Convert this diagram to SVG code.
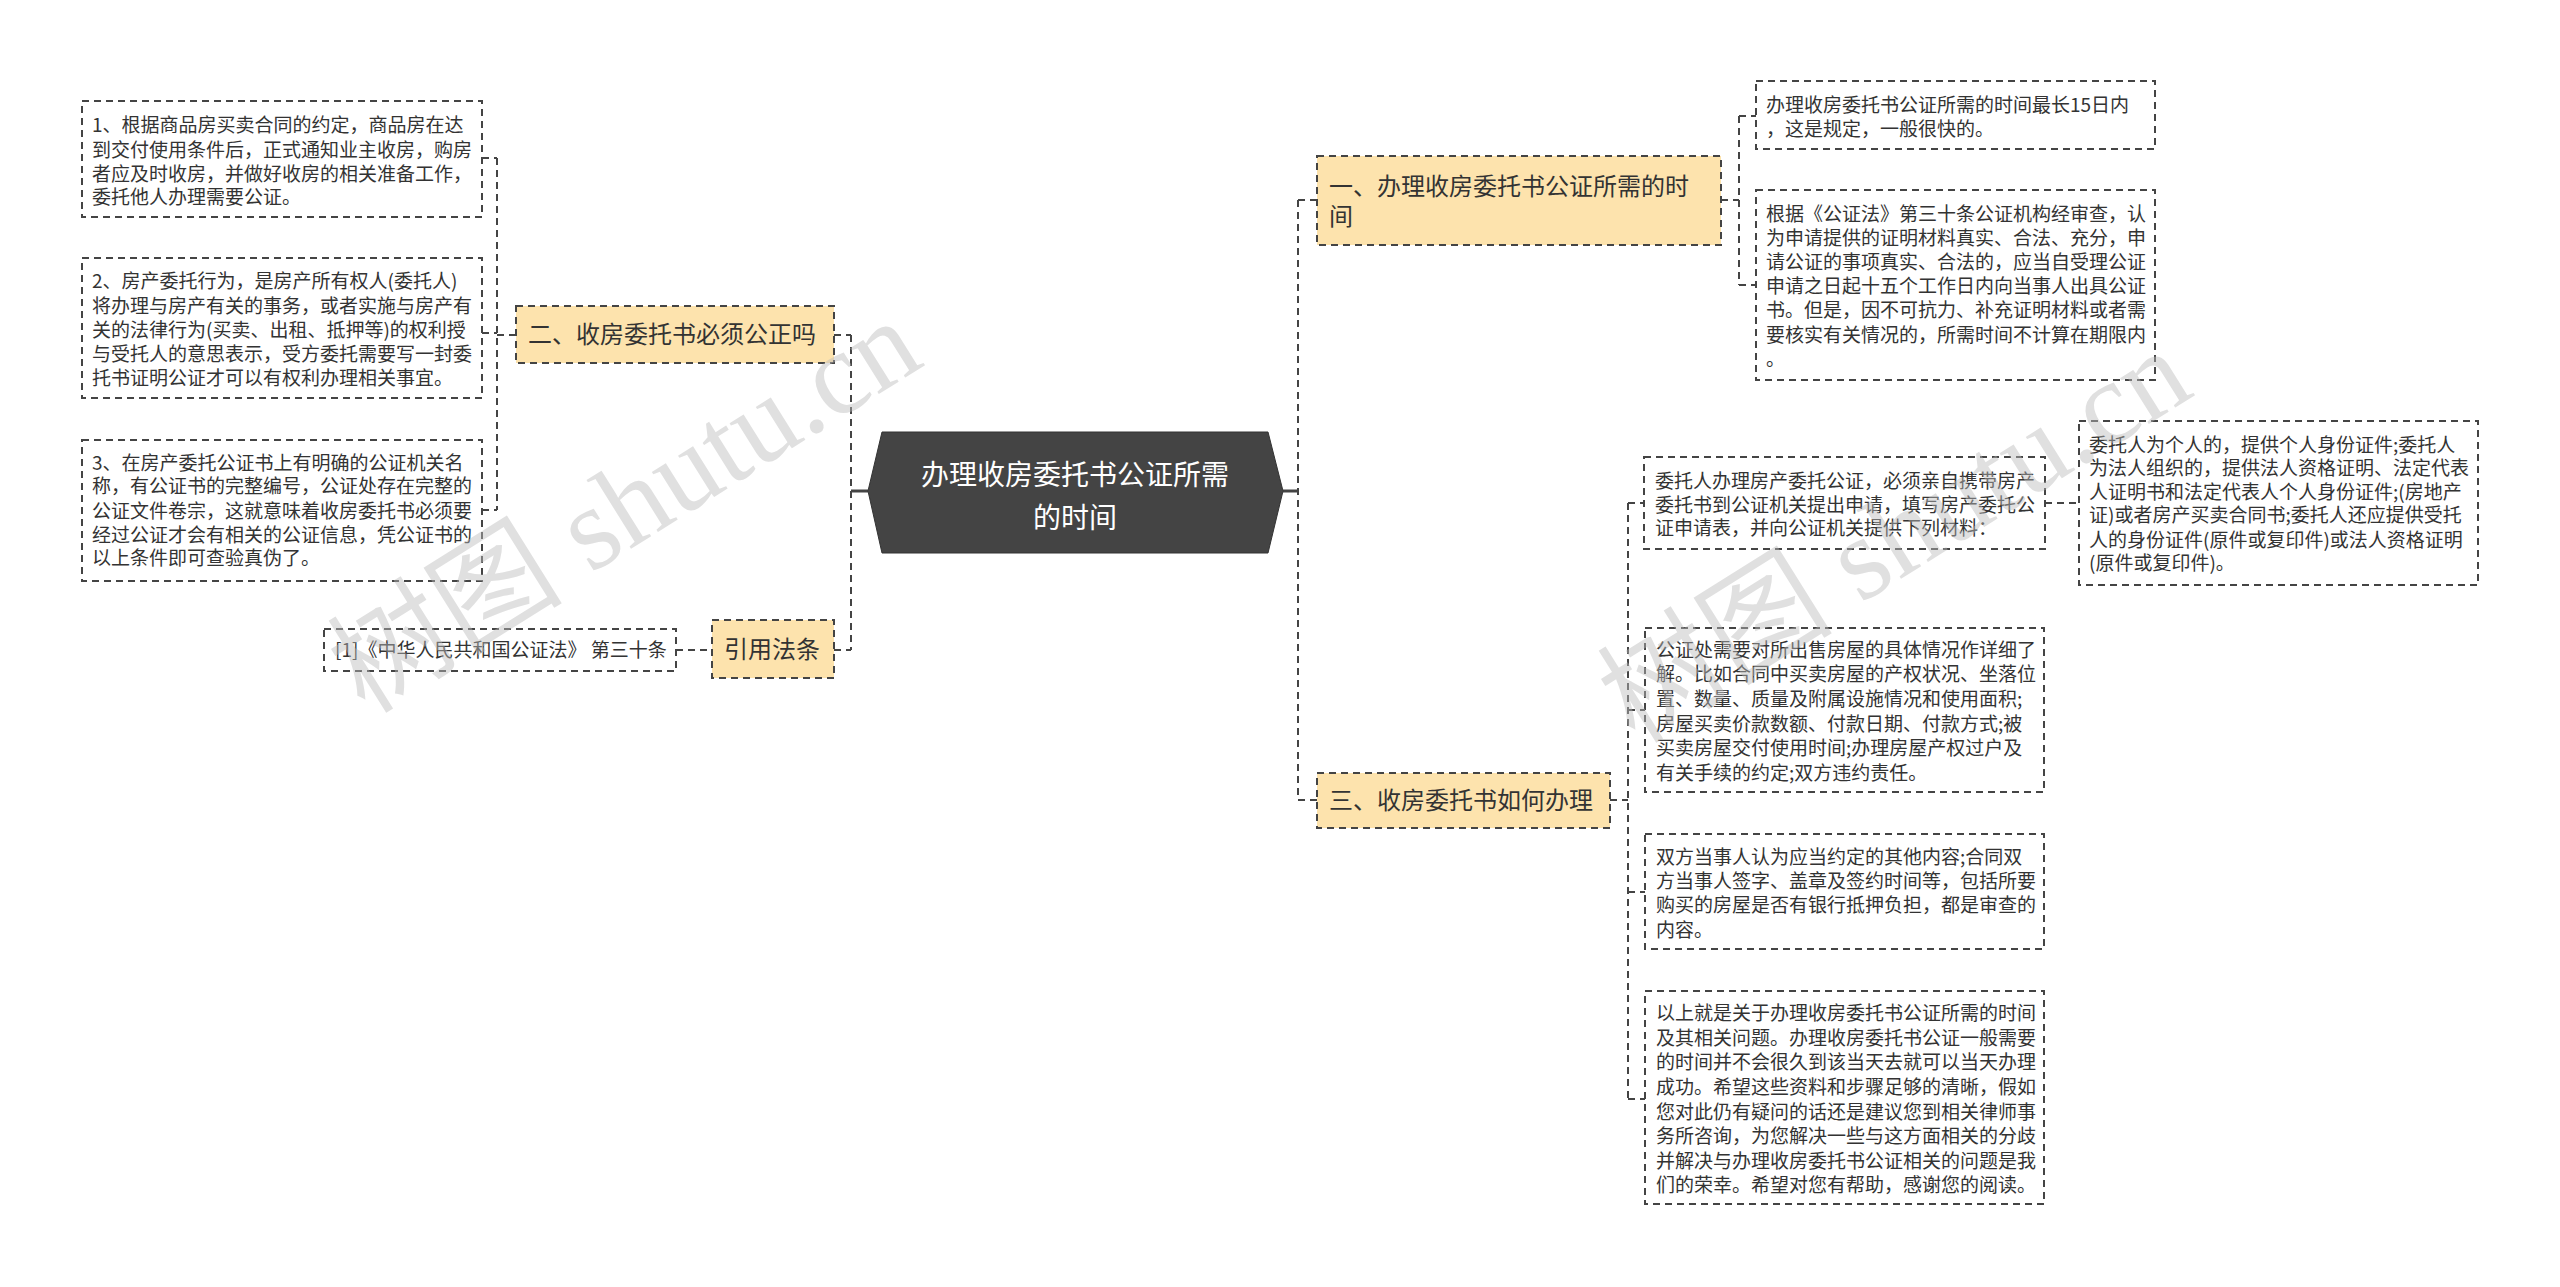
<svg xmlns="http://www.w3.org/2000/svg" width="2560" height="1287" viewBox="0 0 2560 1287">
<style>
text{font-family:"Noto Sans CJK SC","Liberation Sans",sans-serif;fill:#333}
.s{font-size:19px}
.m{font-size:24px}
.leaf{fill:#fff;stroke:#444;stroke-width:2;stroke-dasharray:7,5}
.l1{fill:#fde3ad;stroke:#444;stroke-width:2;stroke-dasharray:7,5}
.c{fill:none;stroke:#444;stroke-width:2;stroke-dasharray:7,5}
.wm{font-family:"Liberation Serif","Noto Sans CJK SC",serif;font-size:118px;fill:#bbb;opacity:0.45}
</style>
<rect width="2560" height="1287" fill="#fff"/>
<g id="connectors">
<path d="M851,491H868 M1283,491H1298" stroke="#444" stroke-width="3"/>
<path class="c" d="M851,335V650 M834,335H851 M834,650H851 M676,650H712"/>
<path class="c" d="M497,158V510 M482,158H497 M482,333H497 M482,510H497 M497,335H516"/>
<path class="c" d="M1298,200V800 M1298,200H1317 M1298,800H1317"/>
<path class="c" d="M1721,200H1739 M1739,116V285 M1739,116H1756 M1739,285H1756"/>
<path class="c" d="M1610,800H1628 M1628,503V1099 M1628,503H1644 M1628,710H1645 M1628,892H1645 M1628,1099H1645 M2045,503H2079"/>
</g>
<g id="center">
<polygon points="868,491 882,432 1268,432 1283,491 1268,553 882,553" fill="#444" stroke="#333"/>
<text x="1075" y="485" text-anchor="middle" style="font-size:28px;fill:#fff">办理收房委托书公证所需</text>
<text x="1075" y="528" text-anchor="middle" style="font-size:28px;fill:#fff">的时间</text>
</g>
<g id="n2">
<rect class="l1" x="516" y="306" width="318" height="57"/>
<text class="m" x="528" y="343">二、收房委托书必须公正吗</text>
</g>
<g id="n2a">
<rect class="leaf" x="82" y="101" width="400" height="116"/>
<text class="s"><tspan x="92" y="132">1、根据商品房买卖合同的约定，商品房在达</tspan><tspan x="92" y="157">到交付使用条件后，正式通知业主收房，购房</tspan><tspan x="92" y="181">者应及时收房，并做好收房的相关准备工作，</tspan><tspan x="92" y="204">委托他人办理需要公证。</tspan></text>
</g>
<g id="n2b">
<rect class="leaf" x="82" y="258" width="400" height="140"/>
<text class="s"><tspan x="92" y="288">2、房产委托行为，是房产所有权人(委托人)</tspan><tspan x="92" y="313">将办理与房产有关的事务，或者实施与房产有</tspan><tspan x="92" y="337">关的法律行为(买卖、出租、抵押等)的权利授</tspan><tspan x="92" y="361">与受托人的意思表示，受方委托需要写一封委</tspan><tspan x="92" y="385">托书证明公证才可以有权利办理相关事宜。</tspan></text>
</g>
<g id="n2c">
<rect class="leaf" x="82" y="440" width="400" height="141"/>
<text class="s"><tspan x="92" y="470">3、在房产委托公证书上有明确的公证机关名</tspan><tspan x="92" y="493">称，有公证书的完整编号，公证处存在完整的</tspan><tspan x="92" y="518">公证文件卷宗，这就意味着收房委托书必须要</tspan><tspan x="92" y="542">经过公证才会有相关的公证信息，凭公证书的</tspan><tspan x="92" y="565">以上条件即可查验真伪了。</tspan></text>
</g>
<g id="n4">
<rect class="l1" x="712" y="620" width="122" height="58"/>
<text class="m" x="724" y="658">引用法条</text>
</g>
<g id="n4a">
<rect class="leaf" x="324" y="629" width="352" height="42"/>
<text class="s" x="335" y="657">[1]《中华人民共和国公证法》 第三十条</text>
</g>
<g id="n1">
<rect class="l1" x="1317" y="156" width="404" height="89"/>
<text class="m"><tspan x="1329" y="195">一、办理收房委托书公证所需的时</tspan><tspan x="1329" y="225">间</tspan></text>
</g>
<g id="n1a">
<rect class="leaf" x="1756" y="81" width="399" height="68"/>
<text class="s"><tspan x="1766" y="112">办理收房委托书公证所需的时间最长15日内</tspan><tspan x="1766" y="136">，这是规定，一般很快的。</tspan></text>
</g>
<g id="n1b">
<rect class="leaf" x="1756" y="190" width="399" height="190"/>
<text class="s"><tspan x="1766" y="221">根据《公证法》第三十条公证机构经审查，认</tspan><tspan x="1766" y="245">为申请提供的证明材料真实、合法、充分，申</tspan><tspan x="1766" y="269">请公证的事项真实、合法的，应当自受理公证</tspan><tspan x="1766" y="293">申请之日起十五个工作日内向当事人出具公证</tspan><tspan x="1766" y="317">书。但是，因不可抗力、补充证明材料或者需</tspan><tspan x="1766" y="342">要核实有关情况的，所需时间不计算在期限内</tspan><tspan x="1766" y="366">。</tspan></text>
</g>
<g id="n3">
<rect class="l1" x="1317" y="773" width="293" height="55"/>
<text class="m" x="1329" y="809">三、收房委托书如何办理</text>
</g>
<g id="n3a">
<rect class="leaf" x="1644" y="457" width="401" height="92"/>
<text class="s"><tspan x="1655" y="488">委托人办理房产委托公证，必须亲自携带房产</tspan><tspan x="1655" y="512">委托书到公证机关提出申请，填写房产委托公</tspan><tspan x="1655" y="535">证申请表，并向公证机关提供下列材料：</tspan></text>
</g>
<g id="n3a1">
<rect class="leaf" x="2079" y="421" width="399" height="164"/>
<text class="s"><tspan x="2089" y="452">委托人为个人的，提供个人身份证件;委托人</tspan><tspan x="2089" y="475">为法人组织的，提供法人资格证明、法定代表</tspan><tspan x="2089" y="499">人证明书和法定代表人个人身份证件;(房地产</tspan><tspan x="2089" y="522">证)或者房产买卖合同书;委托人还应提供受托</tspan><tspan x="2089" y="547">人的身份证件(原件或复印件)或法人资格证明</tspan><tspan x="2089" y="570">(原件或复印件)。</tspan></text>
</g>
<g id="n3b">
<rect class="leaf" x="1645" y="628" width="399" height="164"/>
<text class="s"><tspan x="1656" y="657">公证处需要对所出售房屋的具体情况作详细了</tspan><tspan x="1656" y="681">解。比如合同中买卖房屋的产权状况、坐落位</tspan><tspan x="1656" y="706">置、数量、质量及附属设施情况和使用面积;</tspan><tspan x="1656" y="731">房屋买卖价款数额、付款日期、付款方式;被</tspan><tspan x="1656" y="755">买卖房屋交付使用时间;办理房屋产权过户及</tspan><tspan x="1656" y="780">有关手续的约定;双方违约责任。</tspan></text>
</g>
<g id="n3c">
<rect class="leaf" x="1645" y="834" width="399" height="115"/>
<text class="s"><tspan x="1656" y="864">双方当事人认为应当约定的其他内容;合同双</tspan><tspan x="1656" y="888">方当事人签字、盖章及签约时间等，包括所要</tspan><tspan x="1656" y="912">购买的房屋是否有银行抵押负担，都是审查的</tspan><tspan x="1656" y="937">内容。</tspan></text>
</g>
<g id="n3d">
<rect class="leaf" x="1645" y="991" width="399" height="213"/>
<text class="s"><tspan x="1656" y="1020">以上就是关于办理收房委托书公证所需的时间</tspan><tspan x="1656" y="1045">及其相关问题。办理收房委托书公证一般需要</tspan><tspan x="1656" y="1069">的时间并不会很久到该当天去就可以当天办理</tspan><tspan x="1656" y="1094">成功。希望这些资料和步骤足够的清晰，假如</tspan><tspan x="1656" y="1119">您对此仍有疑问的话还是建议您到相关律师事</tspan><tspan x="1656" y="1143">务所咨询，为您解决一些与这方面相关的分歧</tspan><tspan x="1656" y="1168">并解决与办理收房委托书公证相关的问题是我</tspan><tspan x="1656" y="1192">们的荣幸。希望对您有帮助，感谢您的阅读。</tspan></text>
</g>
<text class="wm" transform="translate(365,715) rotate(-32)">树图 shutu.cn</text>
<text class="wm" transform="translate(1635,745) rotate(-32)">树图 shutu.cn</text>
</svg>
